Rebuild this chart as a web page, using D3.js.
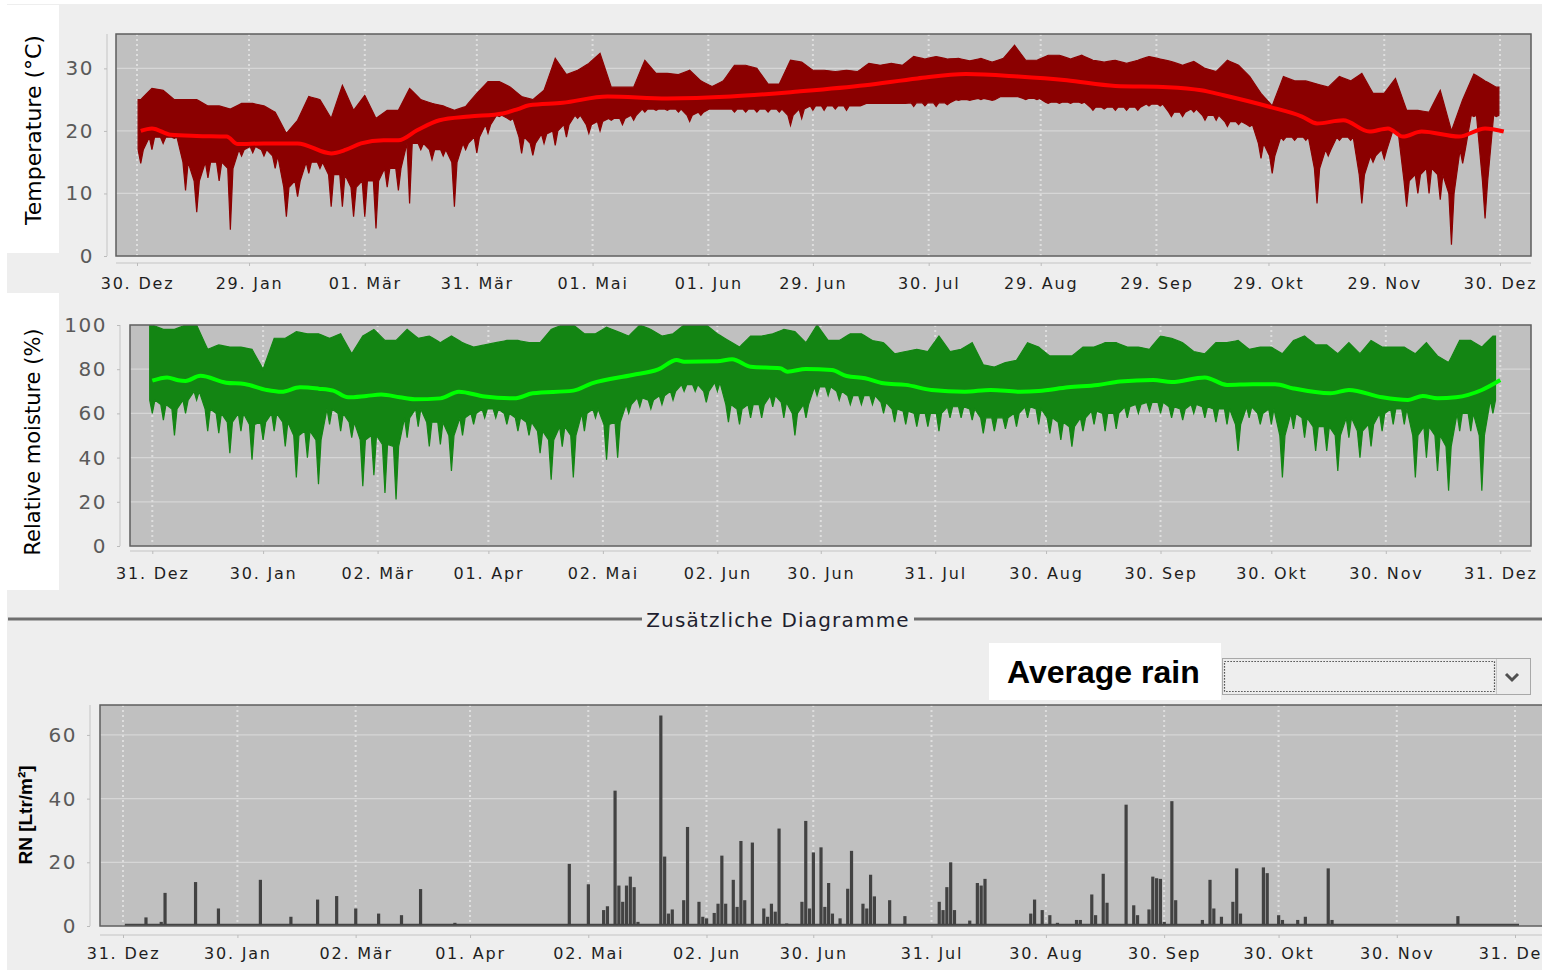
<!DOCTYPE html>
<html><head><meta charset="utf-8">
<script src="https://cdn.jsdelivr.net/npm/d3@7/dist/d3.min.js"></script>
<style>body{margin:0;background:#fff;} svg{display:block;font-family:"DejaVu Sans",sans-serif;}</style>
</head><body><svg id="c" width="1542" height="970"></svg>
<script>
// ---------------- DATA ----------------
// Temperature: 3-day envelopes starting 2012-12-31 (°C)
const envStart = "2012-12-31";
const envStepDays = 3;
const tempMax = [25,26.8,26.5,25,25,25,24,24,23.5,24.4, 24.4,24,23,19.6,21.7,25.5,25,22,27.3,23.3,
  25.7,22,23.3,23.3,26.8,25,24.4,24,23.3,23.9, 26,27.9,27.9,27,25.5,25,26.5,31.6,29,29.7,
  30.8,32.4,27,27,27,31.3,29.2,29.2,29,29.7, 28,27.1,28,30.5,30.5,30,27.5,27.5,31.3,31,
  29.7,29.7,29.5,29.7,29.5,30.8,30.5,30.8,30.5,31.9, 31.5,31.9,31.5,31.6,31.2,31.6,31,31.6,33.7,31.3,
  31.3,32.1,32.1,31.5,32.1,31.3,31,31.3,30.8,31.3, 31.9,31.5,31.1,30.5,31.1,30,29.5,31.3,30.5,28.7,
  26,24,28.7,28,28,27.5,27,28.7,28,29.2, 26,26,28.4,23.3,23.3,23,26.5,20,25,29.1, 28,27];
// lower edge of the dense band
const tempCore = [17,19,19,19,15,12,15,15,14,17, 17.5,17,16,11,12,15,15,13,13,11,
  12,12,14,14,18,18,17,17,15,18, 19,21,22.5,22,19,18,19.5,20,21,22.5,
  21,21.5,22,22,22.5,23.5,23.5,23.5,23.5,22.5, 23,23.5,23.5,23.5,23.5,23.5,23.5,23.5,22.5,23.5,
  24,24,24,24,24,24.4,24.4,24.4,24.4,24.5, 24.5,24.5,24.5,25,25,25.2,25,25.5,25.5,25.2,
  25.2,24.6,24.6,24.6,24.6,23.8,23.8,23.8,23.8,23.8, 24.3,24.3,23,23,23.5,22.5,22.5,21.5,21.5,21,
  18,16,19,19,19,14,17,19,19,13, 16,17,20,12,13,14,13,10,17,22.5, 12,22.5];
// deepest dips (short spikes)
const tempMin = [14.8,17,18,18.8,10.5,7,12.5,12,4.2,16, 16.5,16,14,6.3,9.5,13.2,14,7.9,7.9,6.3,
  6.3,4.4,11,10.5,8.4,17,15.4,16,7.9,17, 16.5,19.6,22.3,21.7,16.4,16.1,18,17.7,19,22,
  19.6,20,21.7,21,21.7,23,23.3,23.3,23,21.5, 22.5,23.5,23.5,23,23,23,23,23,20.9,22,
  23.3,23.3,23.5,23.3,24,24.4,24.4,24.4,24.4,23.9, 24,23.9,24.2,24.9,24.9,25,24.9,25.5,25.5,25,
  25,24.4,24.4,24.4,24.4,23.3,23.5,23.3,23.3,23.3, 24,24,22.3,22.3,23,21.7,21.7,20.7,21,20.7,
  15.6,13.2,18.5,18.5,18.5,8.4,16,18.5,18.5,8.4, 15,15.5,19.6,7.9,10,10,9,1.8,14.8,22.3, 6,22.3];
// Temperature smoothed trend
const tempTrendDates = ["2012-12-31","2013-01-03","2013-01-08","2013-01-15","2013-01-23","2013-01-26","2013-02-02","2013-02-11","2013-02-20","2013-02-24","2013-02-28","2013-03-06","2013-03-10","2013-03-15","2013-03-21","2013-03-29","2013-04-07","2013-04-11","2013-04-14","2013-04-23","2013-05-05","2013-05-21","2013-06-07","2013-06-25","2013-07-13","2013-07-27","2013-08-09","2013-08-23","2013-09-05","2013-09-18","2013-10-02","2013-10-11","2013-10-17","2013-10-29","2013-11-07","2013-11-11","2013-11-18","2013-11-25","2013-11-30","2013-12-04","2013-12-09","2013-12-19","2013-12-26","2013-12-31"];
const tempTrend = [20.0,20.4,19.4,19.2,19.1,17.9,18.0,18.0,16.4,17,18,18.5,18.5,20.1,21.7,22.3,22.8,23.5,24.1,24.5,25.5,25.2,25.5,26.3,27.3,28.4,29.1,28.7,28.1,27.2,27,26.5,25.7,23.9,22.3,21.2,21.7,19.9,20.4,19.1,19.9,19.1,20.4,19.9];

// Relative moisture: 3-day envelopes (%)
const humMax = [100,98,98,100,100,89,91,90,90,89, 80,94,94,97,96,96,94,96,87,95,
  98,93,93,98,94,95,92,95,92,90, 91,92,93,93,92,92,98,100,100,96,
  96,99,97,95,100,98,95,96,100,100, 100,96,93,90,95,95,96,98,97,92,
  100,93,93,96,96,93,92,87,88,89, 88,95,88,89,92,82,81,83,84,92,
  90,86,86,86,90,90,92,92,90,90, 89,95,94,92,88,87,92,92,93,89,
  90,90,87,93,95,91,91,87,92,87, 93,90,90,90,87,92,86,83,93,93, 90,95];
const humCore = [66,64,62,66,70,62,60,56,60,55, 56,60,56,50,52,48,62,60,56,48,
  50,46,45,58,62,56,56,50,58,60, 62,62,60,58,56,52,48,54,50,60,
  62,55,56,64,67,66,68,70,73,73, 70,74,64,62,64,64,68,65,60,64,
  72,72,70,68,68,68,65,62,61,60, 60,60,63,63,62,58,58,58,60,63,
  62,58,56,54,58,61,60,60,63,64, 65,65,63,62,64,63,62,62,55,63,
  60,62,50,60,58,54,54,50,58,52, 55,60,62,62,50,54,50,45,60,60, 50,66];
const humMin = [60,57,50,60,66,52,51,42,52,39, 48,52,45,31,40,28,55,52,49,27,
  32,24,21,49,54,45,46,34,50,55, 58,58,55,52,50,42,30,45,31,52,
  58,39,40,60,63,62,64,66,70,70, 65,70,56,55,58,58,63,58,50,58,
  68,68,66,64,64,64,60,56,55,54, 54,52,58,58,57,51,52,53,54,58,
  55,51,48,45,52,55,52,53,58,60, 61,60,58,57,60,58,56,55,43,58,
  55,55,31,53,49,43,43,34,49,40, 45,52,55,55,31,40,34,25,52,52, 25,60];
const humTrendDates = ["2012-12-31","2013-01-04","2013-01-07","2013-01-09","2013-01-13","2013-01-20","2013-01-25","2013-01-31","2013-02-04","2013-02-09","2013-02-14","2013-02-18","2013-02-22","2013-02-27","2013-03-03","2013-03-08","2013-03-12","2013-03-19","2013-03-24","2013-03-31","2013-04-08","2013-04-13","2013-04-24","2013-04-29","2013-05-10","2013-05-17","2013-05-22","2013-05-24","2013-06-02","2013-06-06","2013-06-11","2013-06-19","2013-06-21","2013-06-26","2013-07-03","2013-07-07","2013-07-12","2013-07-17","2013-07-23","2013-07-30","2013-08-08","2013-08-15","2013-08-23","2013-08-28","2013-09-05","2013-09-13","2013-09-19","2013-09-28","2013-10-03","2013-10-12","2013-10-18","2013-10-25","2013-10-31","2013-11-05","2013-11-15","2013-11-20","2013-11-29","2013-12-06","2013-12-10","2013-12-14","2013-12-19","2013-12-26","2013-12-31"];
const humTrend = [74.8,76.3,75,74.7,77,73.9,73.3,70.6,69.8,71.8,71.2,70.3,67.3,67.9,68.5,67.3,66.4,66.8,69.8,67.6,66.8,69.1,70.3,73.6,77.4,79.9,84.2,83.4,83.6,84.5,81.1,80.4,78.9,80.1,79.6,76.9,75.9,73.6,72.9,70.6,69.8,70.6,69.8,70.1,71.8,72.9,74.4,75.1,74.2,76.3,72.9,73.2,73.2,71.3,69.1,70.6,67.3,66.1,67.9,66.8,67.3,70.6,75.1];

// Rain (daily, Ltr/m²) – only days with rain listed
const rainDates = ["2013-01-06","2013-01-10","2013-01-11","2013-01-19","2013-01-25","2013-02-05","2013-02-13","2013-02-20","2013-02-25","2013-03-02","2013-03-08","2013-03-14","2013-03-19","2013-03-28",
 "2013-04-27","2013-05-02","2013-05-06","2013-05-07","2013-05-09","2013-05-10","2013-05-11","2013-05-12","2013-05-13","2013-05-14","2013-05-15","2013-05-21","2013-05-22","2013-05-23","2013-05-24","2013-05-27","2013-05-28","2013-05-31",
 "2013-06-01","2013-06-02","2013-06-04","2013-06-05","2013-06-06","2013-06-07","2013-06-09","2013-06-10","2013-06-11","2013-06-12","2013-06-14","2013-06-17","2013-06-18","2013-06-19","2013-06-20","2013-06-21","2013-06-23","2013-06-27","2013-06-28","2013-06-29","2013-06-30",
 "2013-07-02","2013-07-03","2013-07-04","2013-07-05","2013-07-07","2013-07-09","2013-07-10","2013-07-13","2013-07-14","2013-07-15","2013-07-16","2013-07-20","2013-07-24",
 "2013-08-02","2013-08-03","2013-08-04","2013-08-05","2013-08-06","2013-08-10","2013-08-12","2013-08-13","2013-08-14","2013-08-26","2013-08-27","2013-08-29","2013-08-31",
 "2013-09-02","2013-09-07","2013-09-08","2013-09-11","2013-09-12","2013-09-14","2013-09-15","2013-09-20","2013-09-22","2013-09-23","2013-09-26","2013-09-27","2013-09-28","2013-09-29","2013-09-30",
 "2013-10-02","2013-10-03","2013-10-10","2013-10-12","2013-10-13","2013-10-15","2013-10-18","2013-10-19","2013-10-20","2013-10-26","2013-10-27","2013-10-30","2013-10-31",
 "2013-11-04","2013-11-06","2013-11-12","2013-11-13","2013-12-16"];
const rainValues = [2.7,1.3,10.4,13.8,5.5,14.5,2.9,8.3,9.4,5.5,3.9,3.4,11.6,1.0,
 19.5,13.1,5,6.2,42.5,12.7,7.6,12.7,15.5,12.2,1.3,66.1,21.8,3.9,5.2,8.1,31.1,7.6,
 2.9,2.4,4.1,7.0,22.1,7.0,14.5,6.0,26.7,8.1,26.2,5.5,2.9,7.0,4.5,30.6,0.8,7.6,33,5.5,23.1,
 24.7,6.0,13.5,3.9,2.4,11.7,23.6,7.0,5.5,16.1,9.3,8.1,3.1,
 7.6,5,12.2,20.0,5,1.7,13.5,12.7,14.8,3.9,8.3,5,3.4,
 1.0,1.9,1.9,9.9,3.4,16.4,7.3,38.1,6.5,3.4,5.2,15.5,15.0,14.8,1.3,
 39.2,8.1,1.9,14.5,5.5,2.9,7.6,18.1,3.9,18.4,16.6,3.4,1.9,
 1.9,2.9,18.1,1.9,3.1];
const rainPeriod = ["2013-01-01","2013-12-31"];

// Axis ticks
const tempTickDates = ["2012-12-30","2013-01-29","2013-03-01","2013-03-31","2013-05-01","2013-06-01","2013-06-29","2013-07-30","2013-08-29","2013-09-29","2013-10-29","2013-11-29","2013-12-30"];
const tempTickLabels = ["30. Dez","29. Jan","01. Mär","31. Mär","01. Mai","01. Jun","29. Jun","30. Jul","29. Aug","29. Sep","29. Okt","29. Nov","30. Dez"];
const humTickDates = ["2012-12-31","2013-01-30","2013-03-02","2013-04-01","2013-05-02","2013-06-02","2013-06-30","2013-07-31","2013-08-30","2013-09-30","2013-10-30","2013-11-30","2013-12-31"];
const humTickLabels = ["31. Dez","30. Jan","02. Mär","01. Apr","02. Mai","02. Jun","30. Jun","31. Jul","30. Aug","30. Sep","30. Okt","30. Nov","31. Dez"];
const rainTickDates = humTickDates;
const rainTickLabels = ["31. Dez","30. Jan","02. Mär","01. Apr","02. Mai","02. Jun","30. Jun","31. Jul","30. Aug","30. Sep","30. Okt","30. Nov","31. Dez"];
const tempYTicks = [0,10,20,30];
const humYTicks = [0,20,40,60,80,100];
const rainYTicks = [0,20,40,60];

// ---------------- DRAWING ----------------
const P = d3.timeParse("%Y-%m-%d");
const svg = d3.select("#c");
svg.append("rect").attr("x",7).attr("y",4).attr("width",1535).attr("height",966).attr("fill","#eeeeee");

// outline: band (core..max) with sharp dips down to min at each bin centre;
// the upper edge runs straight between bin centres
function envelopePoints(core, mins, maxs){
  const s = P(envStart), pts = [];
  const f = 0.7/envStepDays, hw = 0.7*24*3600*1000;
  core.forEach((c,i)=>{
    const t = d3.timeDay.offset(s, i*envStepDays);
    const prev = i>0 ? maxs[i-1] : maxs[i], next = i<maxs.length-1 ? maxs[i+1] : maxs[i];
    pts.push({t:new Date(+t-hw), lo:c, hi:maxs[i]+(prev-maxs[i])*f});
    pts.push({t:t, lo:Math.min(c,mins[i]), hi:maxs[i]});
    pts.push({t:new Date(+t+hw), lo:c, hi:maxs[i]+(next-maxs[i])*f});
  });
  return pts;
}

function makePanel(o){
  const g = svg.append("g");
  const x = d3.scaleTime().domain(o.xDom.map(P)).range(o.xRange);
  const y = d3.scaleLinear().domain(o.yDom).range(o.yRange);
  const id = "clip"+o.name;
  svg.append("clipPath").attr("id",id).append("rect")
    .attr("x",o.px0).attr("y",o.py0).attr("width",o.px1-o.px0).attr("height",o.py1-o.py0);
  g.append("rect").attr("x",o.px0).attr("y",o.py0).attr("width",o.px1-o.px0).attr("height",o.py1-o.py0)
    .attr("fill","#c0c0c0");
  const grid = g.append("g").attr("clip-path",`url(#${id})`);
  grid.selectAll("line.h").data(o.yTicks).join("line")
    .attr("x1",o.px0).attr("x2",o.px1).attr("y1",d=>y(d)).attr("y2",d=>y(d))
    .attr("stroke","#d6d6d6").attr("stroke-width",1.2);
  grid.selectAll("line.v").data(o.xTicks.map(P)).join("line")
    .attr("x1",d=>x(d)).attr("x2",d=>x(d)).attr("y1",o.py0).attr("y2",o.py1)
    .attr("stroke","#dedede").attr("stroke-width",2).attr("stroke-dasharray","2,3");
  const data = g.append("g").attr("clip-path",`url(#${id})`);
  const frame = ()=> g.append("rect").attr("x",o.px0).attr("y",o.py0).attr("width",o.px1-o.px0).attr("height",o.py1-o.py0)
    .attr("fill","none").attr("stroke","#5e5e5e").attr("stroke-width",1.5);
  const ya = g.append("g").attr("transform",`translate(${o.yAxisX},0)`)
    .call(d3.axisLeft(y).tickValues(o.yTicks).tickSize(3).tickPadding(10).tickSizeOuter(0));
  ya.select(".domain").attr("stroke","#c4c4c4").attr("d",`M0,${o.py0}V${o.py1}`);
  ya.selectAll(".tick line").attr("stroke","#bbbbbb");
  ya.selectAll("text").attr("font-size",20).attr("fill","#5a5a5a").attr("letter-spacing","1.5px")
    .attr("font-family","DejaVu Sans");
  const xa = g.append("g").attr("transform",`translate(0,${o.xAxisY})`)
    .call(d3.axisBottom(x).tickValues(o.xTicks.map(P)).tickFormat((d,i)=>o.xLabels[i]).tickSize(3).tickSizeOuter(0));
  xa.select(".domain").attr("stroke","#c4c4c4").attr("d",`M${o.px0},0H${o.axisEnd||o.px1}`);
  xa.selectAll(".tick line").attr("stroke","#bbbbbb");
  xa.selectAll("text").attr("font-size",16).attr("fill","#1e1e1e").attr("letter-spacing","1.8px")
    .attr("font-family","DejaVu Sans").attr("dy",0).attr("y",o.labelY);
  return {x,y,data,frame,g};
}

function yLabel(text, cx, cy, box, opts={}){
  if(box) svg.append("rect").attr("x",box[0]).attr("y",box[1]).attr("width",box[2]).attr("height",box[3]).attr("fill","#ffffff");
  svg.append("text").attr("transform",`translate(${cx},${cy}) rotate(-90)`)
    .attr("text-anchor","middle").attr("dominant-baseline","central")
    .attr("font-family",opts.family||"DejaVu Sans").attr("font-size",opts.size||22)
    .attr("font-weight",opts.weight||"normal").attr("fill","#000").text(text);
}

function drawEnvelope(panel, pts, color){
  panel.data.append("path").datum(pts).attr("fill",color).attr("stroke",color).attr("stroke-width",1.2)
    .attr("stroke-linejoin","miter")
    .attr("d", d3.area().x(d=>panel.x(d.t)).y0(d=>panel.y(d.lo)).y1(d=>panel.y(d.hi)));
}

// ---- Temperature ----
const T = makePanel({name:"t", px0:116, px1:1531, py0:34, py1:256,
  xDom:["2012-12-30","2013-12-30"], xRange:[137,1500], yDom:[0,35.5], yRange:[256,34],
  yTicks:tempYTicks, xTicks:tempTickDates, xLabels:tempTickLabels, yAxisX:107, xAxisY:263, labelY:26});
drawEnvelope(T, envelopePoints(tempCore, tempMin, tempMax), "#8b0000");
T.data.append("path").datum(tempTrendDates.map((d,i)=>({date:P(d),v:tempTrend[i]})))
  .attr("fill","none").attr("stroke","#ff0000").attr("stroke-width",4).attr("stroke-linejoin","round")
  .attr("d", d3.line().curve(d3.curveMonotoneX).x(d=>T.x(d.date)).y(d=>T.y(d.v)));
T.frame();
yLabel("Temperature (°C)", 33, 130, [7,5,52,248]);

// ---- Relative moisture ----
const H = makePanel({name:"h", px0:130, px1:1531, py0:325, py1:546,
  xDom:["2012-12-31","2013-12-31"], xRange:[152.3,1500.3], yDom:[0,100], yRange:[546,325],
  yTicks:humYTicks, xTicks:humTickDates, xLabels:humTickLabels, yAxisX:120, xAxisY:551, labelY:28});
drawEnvelope(H, envelopePoints(humCore, humMin, humMax), "#138513");
H.data.append("path").datum(humTrendDates.map((d,i)=>({date:P(d),v:humTrend[i]})))
  .attr("fill","none").attr("stroke","#00ff00").attr("stroke-width",4).attr("stroke-linejoin","round")
  .attr("d", d3.line().curve(d3.curveMonotoneX).x(d=>H.x(d.date)).y(d=>H.y(d.v)));
H.frame();
yLabel("Relative moisture (%)", 33, 442, [7,293,52,297], {size:21});

// ---- Separator ----
svg.append("line").attr("x1",8).attr("x2",1542).attr("y1",619).attr("y2",619).attr("stroke","#6e6e6e").attr("stroke-width",3);
svg.append("rect").attr("x",642).attr("y",606).attr("width",272).attr("height",28).attr("fill","#eeeeee");
svg.append("text").attr("x",778).attr("y",627).attr("text-anchor","middle").attr("font-size",20)
  .attr("letter-spacing","1.2px")
  .attr("font-family","DejaVu Sans").attr("fill","#1e1e2e").text("Zusätzliche Diagramme");

// ---- Combo ----
svg.append("rect").attr("x",1222.5).attr("y",658.5).attr("width",308).attr("height",36).attr("fill","#ececec").attr("stroke","#a8a8a8");
svg.append("rect").attr("x",1224.5).attr("y",661.5).attr("width",270).attr("height",30).attr("fill","#eeeeee")
  .attr("stroke","#222").attr("stroke-width",1.2).attr("stroke-dasharray","1.2,1.8");
svg.append("line").attr("x1",1496.5).attr("x2",1496.5).attr("y1",659).attr("y2",694).attr("stroke","#c8c8c8");
svg.append("path").attr("d","M1506,674 L1512,680 L1518,674").attr("fill","none").attr("stroke","#505050").attr("stroke-width",3);
svg.append("rect").attr("x",989).attr("y",643).attr("width",232).attr("height",57).attr("fill","#ffffff");
svg.append("text").attr("x",1007).attr("y",683).attr("font-family","Liberation Sans, Arial, sans-serif")
  .attr("font-weight","bold").attr("font-size",32).attr("fill","#000").text("Average rain");

// ---- Rain ----
const R = makePanel({name:"r", px0:100, px1:1560, py0:705, py1:926,
  xDom:["2012-12-31","2013-12-31"], xRange:[123,1515], yDom:[0,69.4], yRange:[926,705],
  yTicks:rainYTicks, xTicks:rainTickDates, xLabels:rainTickLabels, yAxisX:90, xAxisY:935, labelY:24, axisEnd:1542});
const rp = rainPeriod.map(P);
R.data.append("line").attr("x1",R.x(rp[0])-2).attr("x2",R.x(rp[1])+4).attr("y1",R.y(0)-1).attr("y2",R.y(0)-1)
  .attr("stroke","#444").attr("stroke-width",2.5);
R.data.selectAll("rect.bar").data(rainDates.map((d,i)=>({date:P(d),v:rainValues[i]}))).join("rect")
  .attr("x",d=>R.x(d.date)-1.5).attr("width",3.2)
  .attr("y",d=>R.y(d.v)).attr("height",d=>R.y(0)-R.y(d.v))
  .attr("fill","#424242");
R.frame();
yLabel("RN [Ltr/m²]", 25, 815, null, {family:"Liberation Sans, Arial, sans-serif", weight:"bold", size:19});
</script></body></html>
